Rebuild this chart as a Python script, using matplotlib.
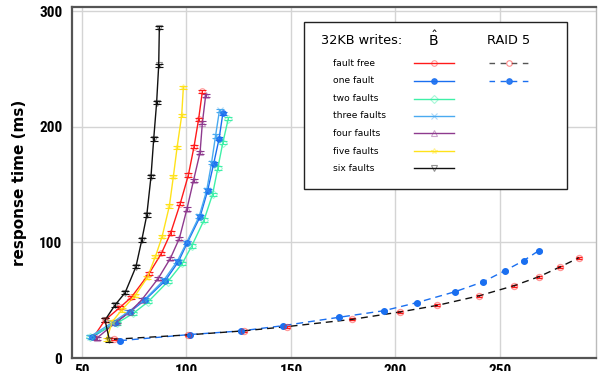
import numpy as np
import matplotlib.pyplot as plt
from matplotlib.lines import Line2D
from matplotlib.patches import Rectangle
from matplotlib import font_manager

# B-hat, 32KB writes (throughput vs response time)
ff_x = [55.4, 61.0, 68.2, 73.6, 82.0, 88.0, 92.4, 97.0, 100.9, 103.6, 105.8, 107.6]
ff_y = [17.9, 32.8, 43.8, 52.5, 72.8, 90.5, 108.0, 133.5, 158.2, 182.7, 206.5, 230.5]
one_x = [54.8, 65.8, 73.0, 80.1, 89.7, 96.1, 100.4, 106.5, 110.1, 113.0, 115.6, 117.4]
one_y = [17.9, 30.5, 40.0, 50.1, 66.6, 83.2, 99.7, 122.1, 144.6, 168.0, 189.6, 211.5]
two_x = [53.8, 66.6, 74.5, 81.7, 91.0, 98.0, 102.5, 108.4, 112.5, 115.0, 117.4, 120.0]
two_y = [18.4, 30.0, 38.6, 48.7, 65.9, 81.8, 96.8, 119.3, 141.7, 164.3, 186.2, 206.9]
three_x = [53.8, 64.4, 72.2, 79.7, 89.2, 95.6, 100.1, 106.1, 109.7, 112.0, 113.9, 115.8]
three_y = [18.4, 30.5, 40.0, 50.1, 67.4, 83.8, 100.0, 122.7, 145.2, 168.8, 192.0, 214.3]
four_x = [57.0, 66.6, 73.0, 78.5, 86.5, 92.3, 96.6, 100.2, 103.4, 106.5, 107.6, 109.2]
four_y = [17.0, 31.4, 40.0, 50.1, 68.9, 86.2, 103.5, 128.8, 153.8, 177.8, 203.4, 227.3]
five_x = [61.8, 64.5, 69.0, 75.4, 81.2, 85.1, 88.3, 91.8, 93.7, 95.5, 97.7, 98.5]
five_y = [16.2, 31.5, 41.5, 54.0, 69.4, 87.6, 104.8, 131.4, 156.7, 182.1, 209.7, 234.0]
six_x = [63.1, 61.0, 65.8, 70.6, 75.8, 78.6, 81.0, 83.0, 84.3, 85.7, 86.7, 87.0]
six_y = [15.6, 32.8, 45.8, 56.4, 78.9, 102.0, 123.6, 156.7, 189.3, 220.7, 253.2, 285.5]

# RAID 5
r5ff_x = [65.3, 100.8, 127.5, 147.9, 179.3, 202.2, 220.0, 240.1, 256.7, 268.7, 279.0, 287.8]
r5ff_y = [16.2, 20.0, 23.5, 27.1, 33.4, 39.8, 45.5, 53.8, 62.5, 70.3, 78.9, 86.7]
r5one_x = [68.2, 101.7, 125.9, 146.0, 173.0, 194.5, 210.1, 228.5, 242.0, 252.4, 261.3, 268.5]
r5one_y = [15.0, 20.3, 23.4, 27.9, 35.2, 40.9, 47.8, 57.3, 65.9, 75.5, 84.1, 92.7]

labels = ["fault free", "one fault", "two faults", "three faults",
          "four faults", "five faults", "six faults"]
colors = ["#ff1a1a", "#1a6ff0", "#3ef0a8", "#4aaaf0", "#8e3a8e", "#ffe21a", "#111111"]
markers = ["o", "o", "D", "x", "^", "*", "v"]
filled = [False, True, False, False, False, False, False]

# narrow bold font for tick labels, if one is installed
installed = {f.name for f in font_manager.fontManager.ttflist}
narrow = [f for f in ["Liberation Sans Narrow", "DejaVu Sans Condensed", "Roboto Condensed"]
          if f in installed]
tick_family = narrow[0] if narrow else "Roboto"
tick_size = 11 if narrow else 9.5

fig = plt.figure(figsize=(5.99, 3.71), dpi=100)
ax = fig.add_axes([72 / 599, 13 / 371, 524 / 599, 351 / 371])

series = [(ff_x, ff_y), (one_x, one_y), (two_x, two_y), (three_x, three_y),
          (four_x, four_y), (five_x, five_y), (six_x, six_y)]


def draw(x, y, c, m, fill, ls="-", lc=None):
    ax.errorbar(x, y, yerr=1.4, color=lc or c, ecolor=c, elinewidth=0.8,
                capsize=2.6, capthick=0.8, lw=1.0, ls=ls, marker="none", zorder=3)
    ax.plot(x, y, ls="none", marker=m, ms=4,
            mfc=c if fill else "none", mec=c, mew=0.8, alpha=0.45 if not fill else 0.9, zorder=4)


for (x, y), c, m, f in zip(series, colors, markers, filled):
    draw(x, y, c, m, f)

dash = (0, (5, 3.5))
ax.errorbar(r5one_x, r5one_y, yerr=0.8, color=colors[1], ecolor=colors[1], lw=1.0,
            ls=dash, capsize=2.5, elinewidth=0.8, zorder=3)
ax.plot(r5one_x, r5one_y, ls="none", marker="o", ms=4, color=colors[1], zorder=4)
ax.errorbar(r5ff_x, r5ff_y, yerr=0.8, color="#111111", ecolor=colors[0], lw=1.0,
            ls=dash, capsize=2.5, elinewidth=0.8, zorder=3)
ax.plot(r5ff_x, r5ff_y, ls="none", marker="o", ms=4.5, mfc="none", mec=colors[0],
        mew=0.8, alpha=0.45, zorder=4)

ax.set_xlim(45.2, 296)
ax.set_ylim(0, 303.5)
ax.set_xticks([50, 100, 150, 200, 250])
ax.set_yticks([0, 100, 200, 300])
ax.grid(color="#d4d4d4", lw=1.0)
ax.set_axisbelow(True)
for lab in ax.get_xticklabels() + ax.get_yticklabels():
    lab.set_fontfamily(tick_family)
    lab.set_fontweight("bold")
    lab.set_fontsize(tick_size)
ax.tick_params(length=0)
ax.tick_params(axis="y", pad=7)
ax.tick_params(axis="x", pad=4)
for s in ["left", "bottom", "top"]:
    ax.spines[s].set_color("#555555")
    ax.spines[s].set_linewidth(1.6)
ax.spines["right"].set_color("#bbbbbb")
ax.spines["right"].set_linewidth(1.0)
ax.text(-0.1, 0.5, "response time (ms)", transform=ax.transAxes, rotation=90,
        fontsize=11, fontweight="bold", va="center", ha="center")

# legend box
tr = ax.transAxes
def axx(px):
    return (px - 72) / 524
def axy(py):
    return (358 - py) / 351

ax.add_patch(Rectangle((axx(304), axy(189)), axx(567) - axx(304), axy(22) - axy(189),
                       transform=tr, fc="white", ec="#222222", lw=1.0, zorder=10))
ax.text(axx(321), axy(41), "32KB writes:", transform=tr, fontsize=9.3,
        va="center", ha="left", zorder=11)
ax.text(axx(433), axy(39.5), r"$\hat{\mathsf{B}}$", transform=tr, fontsize=10,
        va="center", ha="center", zorder=11)
ax.text(axx(509), axy(41), "RAID 5", transform=tr, fontsize=9.3,
        va="center", ha="center", zorder=11)
rows = [63.3, 80.7, 98.7, 116, 133.3, 151, 168.3]
for i, (lab, c, m, f) in enumerate(zip(labels, colors, markers, filled)):
    yy = axy(rows[i])
    ax.text(axx(333), yy, lab, transform=tr, fontsize=6.6, va="center", ha="left", zorder=11)
    ax.add_line(Line2D([axx(414), axx(454)], [yy, yy], transform=tr, color=c, lw=1.0, zorder=11))
    ax.add_line(Line2D([axx(434)], [yy], transform=tr, ls="none", marker=m, ms=4,
                       mfc=c if f else "none", mec=c, mew=0.8,
                       alpha=0.9 if f else 0.45, zorder=12))
for i, (lc, mc, f) in enumerate([("#555555", colors[0], False), (colors[1], colors[1], True)]):
    yy = axy(rows[i])
    ax.add_line(Line2D([axx(489), axx(528)], [yy, yy], transform=tr, color=lc, lw=1.0,
                       ls=(0, (4, 4)), zorder=11))
    ax.add_line(Line2D([axx(509)], [yy], transform=tr, ls="none", marker="o", ms=4,
                       mfc=mc if f else "none", mec=mc, mew=0.8,
                       alpha=0.9 if f else 0.5, zorder=12))

fig.savefig("out.png", dpi=100)
